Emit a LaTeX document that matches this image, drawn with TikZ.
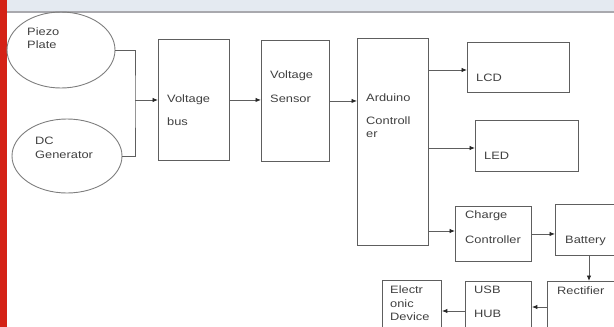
\documentclass[tikz,border=0pt]{standalone}
\usepackage{fontspec}
\setmainfont{Liberation Sans}
\newfontfamily\lab[FakeStretch=1.2]{Liberation Sans}
\usetikzlibrary{arrows.meta,shapes.geometric}
\definecolor{barred}{HTML}{D42216}
\definecolor{topband}{HTML}{E4EAF1}
\definecolor{topline}{HTML}{A9A9AE}
\definecolor{edge}{HTML}{5E5E5E}
\definecolor{txt}{HTML}{404040}
\tikzset{
  box/.style={draw=edge, line width=0.9pt, rectangle, inner sep=0pt, anchor=north west},
  oval/.style={draw=edge!80, line width=0.9pt, ellipse, inner sep=0pt},
  lbl/.style={anchor=base west, inner sep=0pt, text=txt, font=\lab\fontsize{10.7}{12}\selectfont},
  conn/.style={draw=edge, line width=0.9pt},
  arr/.style={conn, -{Latex[length=5.5pt,width=4.5pt,color=black!85]}},
}
\begin{document}
\begin{tikzpicture}[x=1pt,y=-1pt]
\useasboundingbox (0,0) rectangle (614,327);
\clip (0,0) rectangle (614,327);
% background decorations
\fill[topband] (0,0) rectangle (614,10.5);
\fill[topline] (0,10.5) rectangle (614,12.5);
\fill[barred] (0,0) rectangle (7,327);
% ellipses
\node[oval, minimum width=108pt, minimum height=76pt] (piezo) at (61,50) {};
\node[oval, minimum width=110pt, minimum height=74pt] (dcg) at (67,156) {};
% boxes
\node[box, minimum width=71pt, minimum height=121pt] (vb) at (158,39) {};
\node[box, minimum width=68pt, minimum height=121pt] (vs) at (261,40) {};
\node[box, minimum width=71pt, minimum height=207pt] (ard) at (357,38) {};
\node[box, minimum width=102pt, minimum height=50pt] (lcd) at (467,42) {};
\node[box, minimum width=103pt, minimum height=51pt] (led) at (475,120) {};
\node[box, minimum width=76pt, minimum height=55pt] (cc) at (455,206) {};
\node[box, minimum width=70pt, minimum height=51pt] (bat) at (555,204) {};
\node[box, minimum width=80pt, minimum height=60pt] (rect) at (547,281) {};
\node[box, minimum width=66pt, minimum height=60pt] (usb) at (465,281) {};
\node[box, minimum width=59pt, minimum height=60pt] (ed) at (382,280) {};
% labels
\node[lbl] (t1) at (27,35) {Piezo};
\node[lbl] (t2) at (27,48) {Plate};
\node[lbl] (t3) at (35,144) {DC};
\node[lbl] (t4) at (35,158) {Generator};
\node[lbl] (t5) at (167,102) {Voltage};
\node[lbl] (t6) at (167,125) {bus};
\node[lbl] (t7) at (270,78) {Voltage};
\node[lbl] (t8) at (270,102) {Sensor};
\node[lbl] (t9) at (366,101) {Arduino};
\node[lbl] (t10) at (366,124) {Controll};
\node[lbl] (t11) at (366,137) {er};
\node[lbl] (t12) at (476,81) {LCD};
\node[lbl] (t13) at (484,159) {LED};
\node[lbl] (t14) at (465,218) {Charge};
\node[lbl] (t15) at (465,243) {Controller};
\node[lbl] (t16) at (565,243) {Battery};
\node[lbl] (t17) at (557,294) {Rectifier};
\node[lbl] (t18) at (474,293) {USB};
\node[lbl] (t19) at (474,317) {HUB};
\node[lbl] (t20) at (390,293) {Electr};
\node[lbl] (t21) at (390,307) {onic};
\node[lbl] (t22) at (390,320) {Device};
% helper coordinates
\coordinate (jx) at (135,100);
\coordinate (yl) at (0,70);
\coordinate (yled) at (0,148);
\coordinate (ycc) at (0,231);
\coordinate (xb) at (589,0);
\coordinate (yr) at (0,307);
\coordinate (yu) at (0,311);
% connectors
\draw[conn] (piezo.east) -| (jx) |- (dcg.east);
\draw[arr] (jx) -- (jx -| vb.west);
\draw[arr] (vb.east) -- (vb.east -| vs.west);
\draw[arr] (vs.east) -- (vs.east -| ard.west);
\draw[arr] (ard.east |- yl) -- (lcd.west |- yl);
\draw[arr] (ard.east |- yled) -- (led.west |- yled);
\draw[arr] (ard.east |- ycc) -- (cc.west |- ycc);
\draw[arr] (cc.east) -- (cc.east -| bat.west);
\draw[arr] (bat.south -| xb) -- (rect.north -| xb);
\draw[arr] (rect.west |- yr) -- (usb.east |- yr);
\draw[arr] (usb.west |- yu) -- (ed.east |- yu);
\end{tikzpicture}
\end{document}
